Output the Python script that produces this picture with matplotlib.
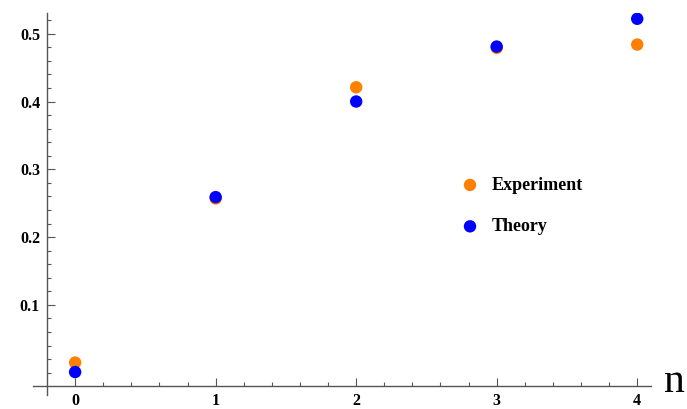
import numpy as np
import matplotlib.pyplot as plt

n = [0, 1, 2, 3, 4]
experiment = [0.015, 0.257, 0.421, 0.479, 0.484]
theory = [0.001, 0.259, 0.400, 0.481, 0.522]

plt.rcParams['font.family'] = ['Liberation Serif', 'DejaVu Serif']

fig = plt.figure(figsize=(6.87, 4.09), dpi=100)
ax = fig.add_axes([0.048, 0.034, 0.9, 0.935])

ax.scatter(n, experiment, s=80, color='#ff8000', edgecolors='none', label='Experiment', zorder=3)
ax.scatter(n, theory, s=80, color='#0000ff', edgecolors='none', label='Theory', zorder=4)

ax.set_xlim(-0.3, 4.1)
ax.set_ylim(-0.033, 0.531)

# axes cross just left of / below the data
for side in ['top', 'right']:
    ax.spines[side].set_visible(False)
ax.spines['left'].set_position(('data', -0.2))
ax.spines['bottom'].set_position(('data', -0.02))
for side in ['left', 'bottom']:
    ax.spines[side].set_color('#555555')
    ax.spines[side].set_linewidth(1.0)

ax.set_xticks(n)
ax.set_xticks(np.arange(0, 4.01, 0.2), minor=True)
ax.set_yticks([0.1, 0.2, 0.3, 0.4, 0.5])
ax.set_yticks(np.arange(0, 0.53, 0.02), minor=True)
ax.set_xticklabels(['0', '1', '2', '3', '4'], fontweight='bold')
ax.set_yticklabels(['0.1', '0.2', '0.3', '0.4', '0.5'], fontweight='bold')

ax.tick_params(which='both', direction='in', color='#555555', width=0.8)
ax.tick_params(which='major', length=6, labelsize=11.5)
ax.tick_params(which='minor', length=3)
ax.tick_params(axis='x', which='major', pad=5)
ax.tick_params(axis='y', which='major', pad=5)

fig.text(0.982, 0.066, 'n', fontsize=30, ha='center', va='center')

leg = ax.legend(loc='upper left', bbox_to_anchor=(0.671, 0.568),
                bbox_transform=fig.transFigure, frameon=False,
                prop={'size': 13, 'weight': 'bold'}, handletextpad=0.7,
                labelspacing=1.35, borderpad=0, borderaxespad=0, handlelength=1)

plt.savefig('out.png', dpi=100)
